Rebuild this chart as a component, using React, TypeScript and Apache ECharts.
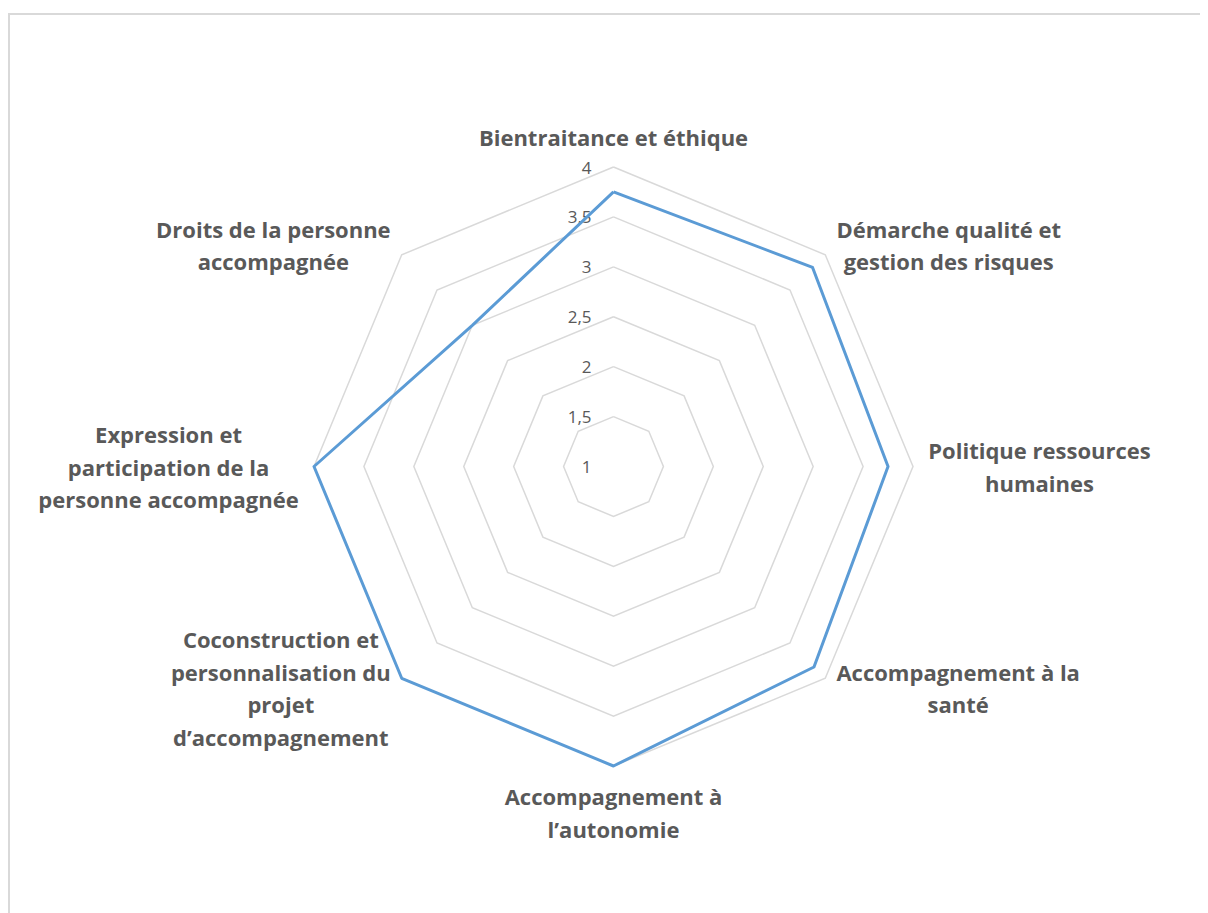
import React, { useEffect, useRef } from "react";
import * as echarts from "echarts";

// Indicators in ECharts order (counter-clockwise starting at the top)
const indicatorNames: string[] = [
  "Bientraitance et éthique",
  "Droits de la personne\naccompagnée",
  "Expression et\nparticipation de la\npersonne accompagnée",
  "Coconstruction et\npersonnalisation du\nprojet\nd’accompagnement",
  "Accompagnement à\nl’autonomie",
  "Accompagnement à la\nsanté",
  "Politique ressources\nhumaines",
  "Démarche qualité et\ngestion des risques",
];
const scores: number[] = [3.75, 3, 4, 4, 4, 3.84, 3.75, 3.82];
const axisMin = 1;
const axisMax = 4;
const levels = 6;

const NAME_FONT = "Open Sans";
const NAME_SIZE = 22;
const LABEL_SIZE = 17;
const TEXT_COLOR = "#595959";
const GRID_COLOR = "#d9d9d9";

function measure(text: string): number {
  const c = document.createElement("canvas").getContext("2d");
  if (!c) return text.length * NAME_SIZE * 0.55;
  c.font = `bold ${NAME_SIZE}px "${NAME_FONT}"`;
  return c.measureText(text).width;
}

export default function App() {
  const ref = useRef<HTMLDivElement>(null);
  useEffect(() => {
    if (!ref.current) return;
    const chart = echarts.init(ref.current, undefined, { renderer: "svg" });
    const rich: Record<string, any> = {};
    indicatorNames.forEach((n, i) => {
      const w = Math.ceil(Math.max(...n.split("\n").map(measure))) + 2;
      rich["r" + i] = {
        width: w,
        align: "center",
        fontFamily: NAME_FONT,
        fontWeight: "bold",
        fontSize: NAME_SIZE,
        lineHeight: 32.5,
        color: TEXT_COLOR,
      };
    });
    const center = [605.5, 458.5];
    const radius = 299.5;
    chart.setOption({
      animation: false,
      backgroundColor: "#ffffff",
      graphic: [
        {
          type: "rect",
          shape: { x: 1, y: 6, width: 1400, height: 1200 },
          style: { fill: "none", stroke: GRID_COLOR, lineWidth: 2 },
          silent: true,
        },
      ],
      radar: [
        {
          center,
          radius,
          startAngle: 90,
          shape: "polygon",
          splitNumber: levels,
          indicator: indicatorNames.map((name) => ({ name, min: axisMin, max: axisMax })),
          nameGap: 14,
          axisName: {
            formatter: (name: string) => {
              const i = indicatorNames.indexOf(name);
              return name
                .split("\n")
                .map((l) => `{r${i}|${l}}`)
                .join("\n");
            },
            rich,
          },
          axisLine: { show: false },
          axisTick: { show: false },
          axisLabel: { show: false },
          splitArea: { show: false },
          splitLine: { lineStyle: { color: GRID_COLOR, width: 1.5 } },
        },
        {
          center,
          radius,
          startAngle: 90,
          shape: "polygon",
          splitNumber: levels,
          indicator: [{ name: "", min: axisMin, max: axisMax }],
          axisName: { show: false },
          axisLine: { show: false },
          axisTick: { show: false },
          splitArea: { show: false },
          splitLine: { show: false },
          axisLabel: {
            show: true,
            showMinLabel: true,
            showMaxLabel: true,
            margin: 22,
            color: TEXT_COLOR,
            fontFamily: NAME_FONT,
            fontSize: LABEL_SIZE,
            formatter: (v: number) => String(v).replace(".", ","),
          },
        },
      ],
      series: [
        {
          type: "radar",
          radarIndex: 0,
          symbol: "none",
          lineStyle: { color: "#5b9bd5", width: 3 },
          data: [{ value: scores, name: "Score" }],
        },
      ],
    });
    return () => chart.dispose();
  }, []);
  return <div ref={ref} style={{ width: 1200, height: 905 }} />;
}
